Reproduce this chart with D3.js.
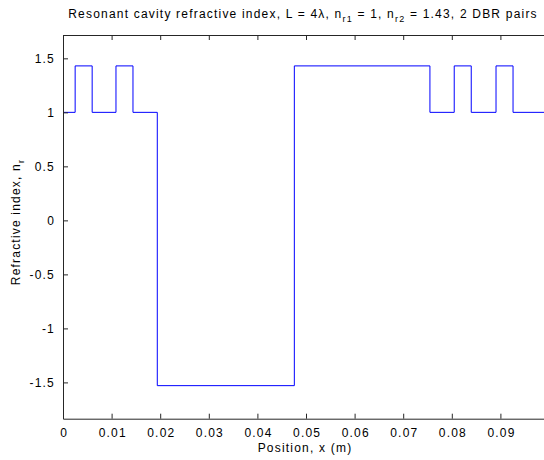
<!DOCTYPE html>
<html>
<head>
<meta charset="utf-8">
<script src="https://cdn.jsdelivr.net/npm/d3@7"></script>
<style>
html,body{margin:0;padding:0;background:#fff;}
svg{display:block;font-family:"Liberation Sans",Arial,Helvetica,sans-serif;}
</style>
</head>
<body>
<svg id="chart" width="544" height="460"></svg>
<script>
// Data: refractive index profile (step function), breakpoints in metres
const edges = [0, 0.0025, 0.0060, 0.0109, 0.0144, 0.0194, 0.0476, 0.0755, 0.0805, 0.0840, 0.0891, 0.0926, 0.1];
const indexValues = [1, 1.43, 1, 1.43, 1, -1.53, 1.43, 1, 1.43, 1, 1.43, 1];
const xTicks = [0, 0.01, 0.02, 0.03, 0.04, 0.05, 0.06, 0.07, 0.08, 0.09];
const xTickLabels = ["0", "0.01", "0.02", "0.03", "0.04", "0.05", "0.06", "0.07", "0.08", "0.09"];
const yTicks = [-1.5, -1, -0.5, 0, 0.5, 1, 1.5];
const yTickLabels = ["-1.5", "-1", "-0.5", "0", "0.5", "1", "1.5"];
const xDomain = [0, 0.1];
const yDomain = [-1.836, 1.716];

const svg = d3.select("#chart");
const m = {left: 63, top: 35, right: 549, bottom: 418.7};

const x = d3.scaleLinear().domain(xDomain).range([m.left, m.right]);
const y = d3.scaleLinear().domain(yDomain).range([m.bottom, m.top]);

// step points
const pts = [];
indexValues.forEach((v, i) => { pts.push([edges[i], v]); pts.push([edges[i + 1], v]); });

svg.append("clipPath").attr("id", "clip").append("rect")
  .attr("x", m.left).attr("y", m.top).attr("width", m.right - m.left).attr("height", m.bottom - m.top);

svg.append("path")
  .datum(pts)
  .attr("clip-path", "url(#clip)")
  .attr("fill", "none")
  .attr("stroke", "#0000ff")
  .attr("stroke-width", 1)
  .attr("d", d3.line().x(d => x(d[0])).y(d => y(d[1])));

const tickLen = 5;
const axCol = "#262626";
const LS = "1.2px";
const xb = d3.axisBottom(x).tickValues(xTicks).tickFormat((d, i) => xTickLabels[i]).tickSizeInner(-tickLen).tickSizeOuter(0).tickPadding(10);
const gx = svg.append("g").attr("transform", `translate(0,${m.bottom})`).call(xb);
const xt = d3.axisTop(x).tickValues(xTicks).tickFormat("").tickSizeInner(-tickLen).tickSizeOuter(0);
const gxt = svg.append("g").attr("transform", `translate(0,${m.top})`).call(xt);
const yl = d3.axisLeft(y).tickValues(yTicks).tickFormat((d, i) => yTickLabels[i]).tickSizeInner(-tickLen).tickSizeOuter(0).tickPadding(8);
const gy = svg.append("g").attr("transform", `translate(${m.left},0)`).call(yl);
const yr = d3.axisRight(y).tickValues(yTicks).tickFormat("").tickSizeInner(-tickLen).tickSizeOuter(0);
const gyr = svg.append("g").attr("transform", `translate(${m.right},0)`).call(yr);

[gx, gxt, gy, gyr].forEach(g => {
  g.select(".domain").attr("stroke", axCol);
  g.selectAll(".tick line").attr("stroke", axCol);
  g.selectAll("text").attr("fill", "#000").style("font-size", "12px")
    .style("letter-spacing", LS).style("font-family", "'Liberation Sans',Arial,sans-serif");
});
gx.selectAll("text").attr("dx", "0.6px");

// Title
const title = svg.append("text").attr("x", 303).attr("y", 18)
  .attr("text-anchor", "middle").style("font-size", "12px").style("letter-spacing", LS).attr("fill", "#000");
title.append("tspan").text("Resonant cavity refractive index, L = 4λ, n");
title.append("tspan").attr("dy", 4).style("font-size", "9px").text("r1");
title.append("tspan").attr("dy", -4).text(" = 1, n");
title.append("tspan").attr("dy", 4).style("font-size", "9px").text("r2");
title.append("tspan").attr("dy", -4).text(" = 1.43, 2 DBR pairs");

// X label
svg.append("text").attr("x", 305).attr("y", 452)
  .attr("text-anchor", "middle").style("font-size", "12px").style("letter-spacing", LS).attr("fill", "#000")
  .text("Position, x (m)");

// Y label
const yl2 = svg.append("text").attr("transform", `translate(20,222) rotate(-90)`)
  .attr("text-anchor", "middle").style("font-size", "12px").style("letter-spacing", LS).attr("fill", "#000");
yl2.append("tspan").text("Refractive index, n");
yl2.append("tspan").attr("dy", 4).style("font-size", "9px").text("r");
</script>
</body>
</html>
